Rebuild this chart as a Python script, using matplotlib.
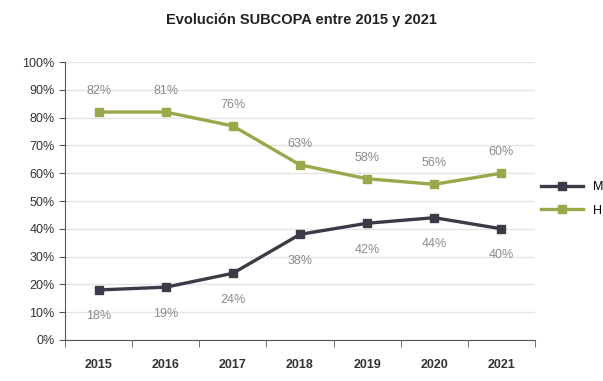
import matplotlib
matplotlib.use('Agg')
from matplotlib import pyplot as plt
from matplotlib.ticker import PercentFormatter

years = ['2015', '2016', '2017', '2018', '2019', '2020', '2021']
mujeres = [18, 19, 24, 38, 42, 44, 40]
hombres = [82, 82, 77, 63, 58, 56, 60]
label_m = ['18%', '19%', '24%', '38%', '42%', '44%', '40%']
label_h = ['82%', '81%', '76%', '63%', '58%', '56%', '60%']

plt.rcParams['font.family'] = ['Liberation Sans', 'DejaVu Sans']
fig = plt.figure(figsize=(6.03, 3.81), dpi=100)
ax = fig.add_axes([65 / 603, 41 / 381, 470 / 603, 278 / 381])

x = range(len(years))
ax.plot(x, mujeres, color='#3b3b48', lw=2.4, marker='s', ms=6, label='M')
ax.plot(x, hombres, color='#9aa84c', lw=2.4, marker='s', ms=6, label='H')

for i, t in enumerate(label_m):
    ax.annotate(t, (i, mujeres[i]), xytext=(0, -19), textcoords='offset points',
                ha='center', va='center', fontsize=9, color='#8a8a8a')
for i, t in enumerate(label_h):
    ax.annotate(t, (i, hombres[i]), xytext=(0, 15), textcoords='offset points',
                ha='center', va='center', fontsize=9, color='#8a8a8a')

ax.set_xlim(-0.5, 6.5)
ax.set_ylim(0, 100)
ax.set_yticks(range(0, 101, 10))
ax.yaxis.set_major_formatter(PercentFormatter(decimals=0))
ax.set_xticks(x)
ax.set_xticklabels(years, fontweight='bold')
ax.set_xticks([i - 0.5 for i in range(8)], minor=True)
ax.tick_params(axis='x', which='major', length=0, pad=14)
ax.tick_params(axis='x', which='minor', length=5, direction='out', color='#555555')
ax.tick_params(axis='y', length=4, color='#555555')
ax.tick_params(labelsize=9, labelcolor='#333333')
ax.grid(axis='y', color='#e4e4e4', lw=1)
ax.set_axisbelow(True)
for s in ['top', 'right']:
    ax.spines[s].set_visible(False)
for s in ['left', 'bottom']:
    ax.spines[s].set_color('#555555')

fig.suptitle('Evolución SUBCOPA entre 2015 y 2021', y=0.965, fontsize=10.5,
             fontweight='bold', color='#222222')
fig.legend(loc='upper left', bbox_to_anchor=(530 / 603, 1 - 170 / 381),
           frameon=False, fontsize=9, handlelength=3.3, labelspacing=0.9)

fig.savefig('out.png', dpi=100)
